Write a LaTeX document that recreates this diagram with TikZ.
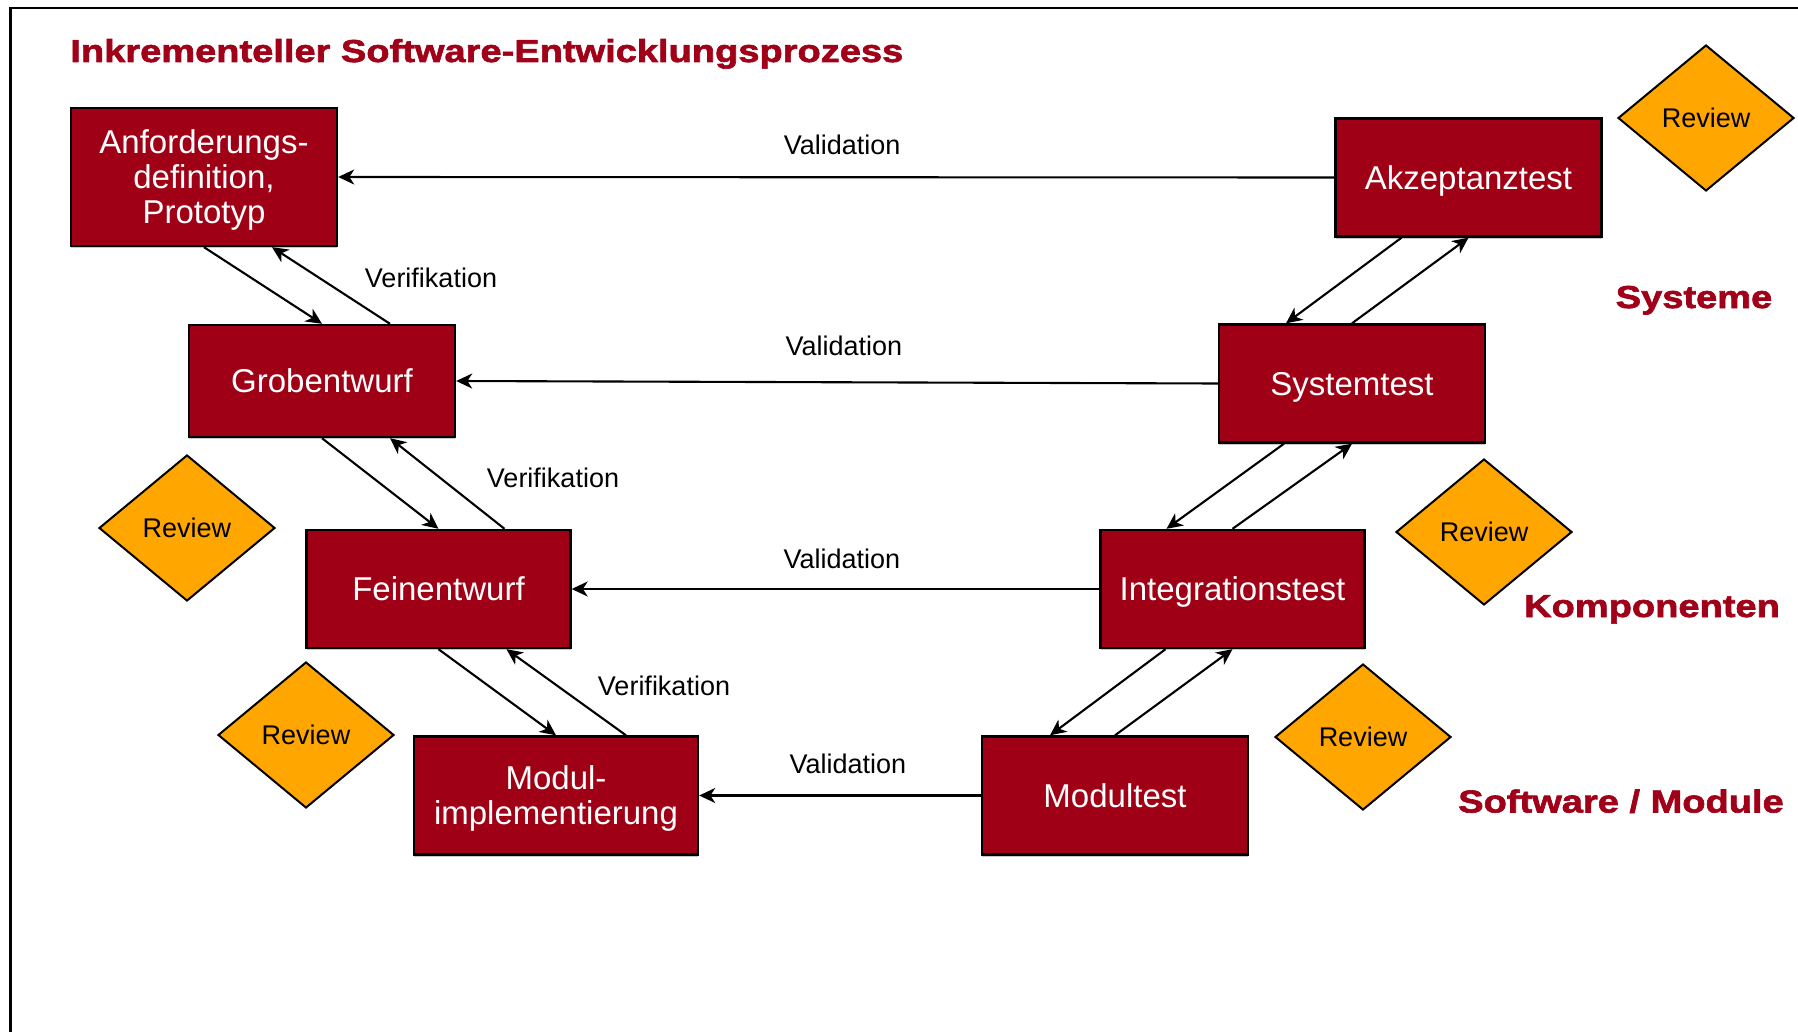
\documentclass[tikz,border=0pt]{standalone}
\usepackage{fontspec}
\setmainfont{Liberation Sans}
\newfontfamily\heavyfont[FakeStretch=1.2,FakeBold=2]{Liberation Sans Bold}
\usetikzlibrary{arrows.meta,shapes.geometric,shadows}

\definecolor{boxred}{RGB}{160,0,21}
\definecolor{titlered}{RGB}{160,0,24}
\definecolor{revorange}{RGB}{255,166,0}

\tikzset{
  stepbox/.style={draw=black, line width=1.2pt, fill=boxred, text=white,
    font=\fontsize{16.5pt}{17.5pt}\selectfont, align=center, inner sep=0pt,
    text depth=0pt, minimum width=133pt, minimum height=59pt,
    drop shadow={shadow xshift=0.2pt, shadow yshift=-1.2pt, fill=black!22, opacity=1}},
  review/.style={diamond, draw=black, line width=1pt, fill=revorange,
    font=\fontsize{13.5pt}{16pt}\selectfont, inner sep=0pt, text depth=0pt,
    minimum width=88pt, minimum height=73pt},
  arr/.style={line width=1.05pt, -{Stealth[length=8pt,width=7.5pt,inset=2.4pt]}},
  vlbl/.style={anchor=south, inner sep=0pt, font=\fontsize{13.5pt}{16pt}\selectfont},
  flbl/.style={inner sep=0pt, font=\fontsize{13.5pt}{16pt}\selectfont},
  level/.style={anchor=base, inner sep=0pt, text=titlered,
    font=\heavyfont\fontsize{15.85pt}{18pt}\selectfont},
}

\begin{document}
\begin{tikzpicture}[x=0.5pt, y=-0.5pt]
  \useasboundingbox (0,0) rectangle (1798,1032);

  % frame
  \draw[line width=1.25pt] (10.5,1032) -- (10.5,8) -- (1798,8);

  % title
  \node[level, anchor=base west] (title) at (70,62) {Inkrementeller Software-Entwicklungsprozess};

  % design phases (left branch)
  \node[stepbox, minimum height=69pt] (anf) at (204,177) {Anforderungs-\\definition,\\Prototyp};
  \node[stepbox, minimum height=56pt] (grob) at (322,381) {Grobentwurf};
  \node[stepbox, minimum width=132pt] (fein) at (438.5,589) {Feinentwurf};
  \node[stepbox, minimum width=142pt] (mod) at (556,795.5) {Modul-\\implementierung};

  % test phases (right branch)
  \node[stepbox] (akz) at (1468.5,177.5) {Akzeptanztest};
  \node[stepbox] (sys) at (1352,383.5) {Systemtest};
  \node[stepbox, minimum width=132pt] (int) at (1232.5,589) {Integrationstest};
  \node[stepbox] (mtest) at (1115,795.5) {Modultest};

  % reviews
  \node[review] (rev1) at (1706,118) {Review};
  \node[review] (rev2) at (187,528) {Review};
  \node[review] (rev3) at (306,735) {Review};
  \node[review] (rev4) at (1484,532) {Review};
  \node[review] (rev5) at (1363,737) {Review};

  % levels
  \node[level] (lsys) at (1694,308) {Systeme};
  \node[level] (lkomp) at (1652,617) {Komponenten};
  \node[level] (lsw) at (1621,812.5) {Software / Module};

  % refinement and verification, left branch
  \draw[arr] (anf.south) -- (grob.north);
  \draw[arr] ([xshift=34pt]grob.north) -- ([xshift=34pt]anf.south);
  \draw[arr] (grob.south) -- (fein.north);
  \draw[arr] ([xshift=33pt]fein.north) -- ([xshift=34pt]grob.south);
  \draw[arr] (fein.south) -- (mod.north);
  \draw[arr] ([xshift=35pt]mod.north) -- ([xshift=34pt]fein.south);

  \node[flbl] (ver1) at (431,278) {Verifikation};
  \node[flbl] (ver2) at (553,478) {Verifikation};
  \node[flbl] (ver3) at (664,686) {Verifikation};

  % integration steps, right branch
  \draw[arr] ([xshift=-33.5pt]akz.south) -- ([xshift=-33pt]sys.north);
  \draw[arr] (sys.north) -- (akz.south);
  \draw[arr] ([xshift=-34pt]sys.south) -- ([xshift=-33pt]int.north);
  \draw[arr] (int.north) -- (sys.south);
  \draw[arr] ([xshift=-33.5pt]int.south) -- ([xshift=-32.5pt]mtest.north);
  \draw[arr] (mtest.north) -- (int.south);

  % validation across the branches
  \draw[arr] (akz.west) -- node[vlbl, pos=0.494, yshift=10.8pt] {Validation} (anf.east);
  \draw[arr] (sys.west) -- node[vlbl, pos=0.491, yshift=12.6pt] {Validation} (grob.east);
  \draw[arr] (int.west) -- node[vlbl, pos=0.488, yshift=9.6pt] {Validation} (fein.east);
  \draw[arr] (mtest.west) -- node[vlbl, pos=0.472, yshift=10.4pt] {Validation} (mod.east);
\end{tikzpicture}
\end{document}
